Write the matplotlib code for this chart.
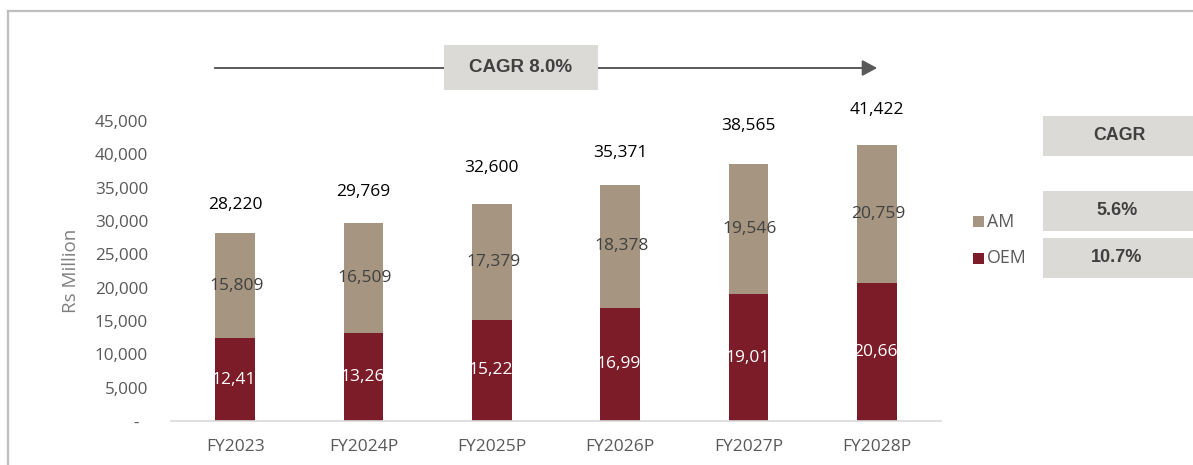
import matplotlib
matplotlib.use("Agg")
import matplotlib.pyplot as plt
from matplotlib.patches import Rectangle, FancyArrowPatch
from matplotlib.lines import Line2D
from matplotlib.transforms import TransformedBbox, offset_copy

# ---- data ----
years = ["FY2023", "FY2024P", "FY2025P", "FY2026P", "FY2027P", "FY2028P"]
oem = [12411, 13260, 15221, 16993, 19019, 20663]
am = [15809, 16509, 17379, 18378, 19546, 20759]
yticks = [0, 5000, 10000, 15000, 20000, 25000, 30000, 35000, 40000, 45000]
cagr_total = "8.0%"
cagr_series = ["5.6%", "10.7%"]   # AM, OEM
series_names = ["AM", "OEM"]

# ---- style ----
W, H = 1193, 465
DPI = 100
C_AM = "#A69580"
C_OEM = "#7B1C28"
C_BOX = "#DBDAD6"
C_TXT = "#595959"
C_DARK = "#404040"
FONT = "Open Sans"
BOLD = "Liberation Sans"
# vertical lift (in points) of each total label above its bar
total_lift_pt = [20, 22, 26, 23, 27, 25]

plt.rcParams["font.family"] = [FONT, "DejaVu Sans"]

fig = plt.figure(figsize=(W / DPI, H / DPI), dpi=DPI)
fig.patch.set_facecolor("white")


def fx(x):
    return x / W


def fy(y):
    return 1 - y / H


# plot area
left, right, top, bottom = 171, 941, 121, 421
ax = fig.add_axes([fx(left), fy(bottom), fx(right - left), (bottom - top) / H])

x = list(range(len(years)))
width = 0.31
totals = [o + a for o, a in zip(oem, am)]
bars_oem = ax.bar(x, oem, width, color=C_OEM, zorder=2)
bars_am = ax.bar(x, am, width, bottom=oem, color=C_AM, zorder=2)

ax.set_xlim(-0.5, len(years) - 0.5)
ax.set_ylim(0, 45000)
ax.set_yticks(yticks)
ax.set_yticklabels(["-  "] + [f"{v:,}" for v in yticks[1:]])
ax.set_xticks(x)
ax.set_xticklabels(years)
ax.tick_params(axis="y", length=0, pad=16.5, labelsize=12.3, labelcolor=C_TXT)
ax.tick_params(axis="x", length=0, pad=13, labelsize=12.5, labelcolor=C_TXT)

for side in ["top", "right", "left"]:
    ax.spines[side].set_visible(False)
ax.spines["bottom"].set_color("#D9D9D9")
ax.spines["bottom"].set_linewidth(1.2)

# value labels
for i, (o, a, t) in enumerate(zip(oem, am, totals)):
    tr = offset_copy(ax.transData, fig=fig, x=0, y=total_lift_pt[i], units="points")
    ax.text(i, t, f"{t:,}", ha="center", va="center", transform=tr,
            fontsize=12.5, color="black", clip_on=False)
    ax.text(i + 0.01, o + a / 2, f"{a:,}", ha="center", va="center",
            fontsize=12.5, color=C_DARK, zorder=3)
    # OEM label is wider than the bar and gets cut at the bar edges
    lab = ax.text(i + 0.03, o / 2, f"{o:,}", ha="center", va="center",
                  fontsize=12.5, color="white", zorder=3)
    lab.set_clip_box(TransformedBbox(bars_oem[i].get_bbox(), ax.transData))
    lab.set_clip_on(True)

fig.text(fx(71), fy(271), "Rs Million", rotation=90, ha="center", va="center",
         fontsize=13.5, color="#7F7F7F")

# overall CAGR arrow and box
arrow = FancyArrowPatch((fx(212), fy(68)), (fx(880), fy(68)),
                        transform=fig.transFigure, arrowstyle="-|>,head_length=6,head_width=3.2",
                        mutation_scale=1.5, color="#595959", linewidth=1.4)
fig.add_artist(arrow)
fig.add_artist(Rectangle((fx(444), fy(90)), fx(154), 45 / H, transform=fig.transFigure,
                         facecolor=C_BOX, edgecolor="none", zorder=3))
fig.text(fx(521), fy(68), f"CAGR {cagr_total}", ha="center", va="center",
         fontsize=13.5, fontweight="bold", family=BOLD, color=C_DARK, zorder=4)

# CAGR table on the right
box_x0, box_x1 = 1043, 1193
fig.add_artist(Rectangle((fx(box_x0), fy(156)), fx(box_x1 - box_x0), 40 / H,
                         transform=fig.transFigure, facecolor=C_BOX, edgecolor="none"))
fig.text(fx(1119), fy(136), "CAGR", ha="center", va="center", fontsize=12.8,
         fontweight="bold", family=BOLD, color=C_DARK)

rows_y = [(191, 231), (238, 278)]
leg_y = [222, 258]
for (y0, y1), val, name, ly, col in zip(rows_y, cagr_series, series_names, leg_y,
                                        [C_AM, C_OEM]):
    fig.add_artist(Rectangle((fx(box_x0), fy(y1)), fx(box_x1 - box_x0), (y1 - y0) / H,
                             transform=fig.transFigure, facecolor=C_BOX, edgecolor="none"))
    fig.text(fx(1117), fy((y0 + y1) / 2 - 1), val, ha="center", va="center", fontsize=13,
             fontweight="bold", family=BOLD, color=C_DARK)
    fig.add_artist(Rectangle((fx(973), fy(ly + 5.5)), fx(11), 11 / H,
                             transform=fig.transFigure, facecolor=col, edgecolor="none"))
    fig.text(fx(987), fy(ly), name, ha="left", va="center", fontsize=12.8, color=C_TXT)

# frame around the chart
fig.add_artist(Line2D([fx(8), fx(8)], [fy(11), 0], transform=fig.transFigure,
                      color="#BFBFBF", linewidth=1.6))
fig.add_artist(Line2D([fx(8), 1], [fy(11), fy(11)], transform=fig.transFigure,
                      color="#BFBFBF", linewidth=1.6))

fig.savefig("out.png", dpi=DPI)
